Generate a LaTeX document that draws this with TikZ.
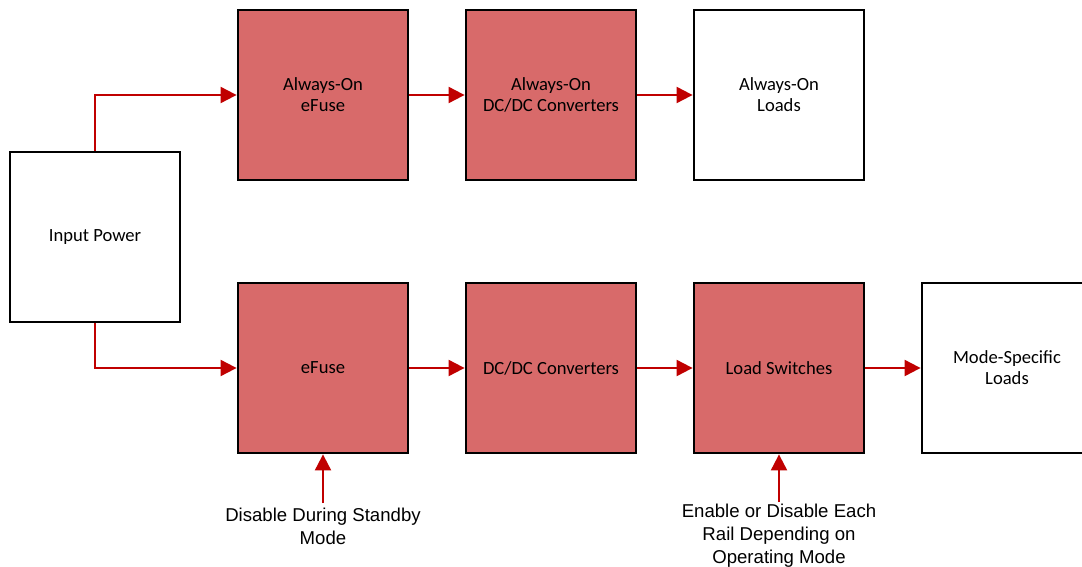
\documentclass[tikz,border=0pt]{standalone}
\usepackage{fontspec}
\setmainfont{Carlito}
\newfontfamily\arialfont{Liberation Sans}
\usetikzlibrary{arrows.meta}
\definecolor{boxred}{HTML}{D86A6A}
\definecolor{wirered}{HTML}{C00000}
\tikzset{
  blk/.style={draw=black,line width=2.8pt,minimum width=170pt,minimum height=170pt,inner sep=0pt,align=center,font=\fontsize{18.6}{21}\selectfont},
  hot/.style={blk,fill=boxred},
  cold/.style={blk,fill=white},
  wire/.style={draw=wirered,line width=2pt,-{Triangle[length=16pt,width=16pt]}},
  lbl/.style={align=center,inner sep=0pt,font=\arialfont\fontsize{18.6}{23}\selectfont}
}
\begin{document}
\begin{tikzpicture}[x=1pt,y=-1pt]
\useasboundingbox (0,0) rectangle (1082,567);
\begin{scope}
\clip (0,0) rectangle (1082,567);
\node[cold] (inp) at (95,237) {Input Power};
\node[hot] (aoef) at (323,95) {Always-On\\eFuse};
\node[hot] (aodc) at (551,95) {Always-On\\DC/DC Converters};
\node[cold] (aold) at (779,95) {Always-On\\Loads};
\node[hot] (ef) at (323,368) {eFuse};
\node[hot] (dc) at (551,368) {DC/DC Converters};
\node[hot] (ls) at (779,368) {Load Switches};
\node[cold] (ms) at (1007,368) {Mode-Specific\\Loads};

\node[lbl,anchor=north] (l1) at (323,508) {Disable During Standby\\Mode};
\node[lbl,anchor=north] (l2) at (779,504) {Enable or Disable Each\\Rail Depending on\\Operating Mode};

\draw[wire] (inp.north) |- (aoef.west);
\draw[wire] (inp.south) |- (ef.west);
\draw[wire] (aoef.east) -- (aodc.west);
\draw[wire] (aodc.east) -- (aold.west);
\draw[wire] (ef.east) -- (dc.west);
\draw[wire] (dc.east) -- (ls.west);
\draw[wire] (ls.east) -- (ms.west);
\draw[wire,shorten <=5pt] (l1.north) -- (ef.south);
\draw[wire,shorten <=2pt] (l2.north) -- (ls.south);
\end{scope}
\end{tikzpicture}
\end{document}
